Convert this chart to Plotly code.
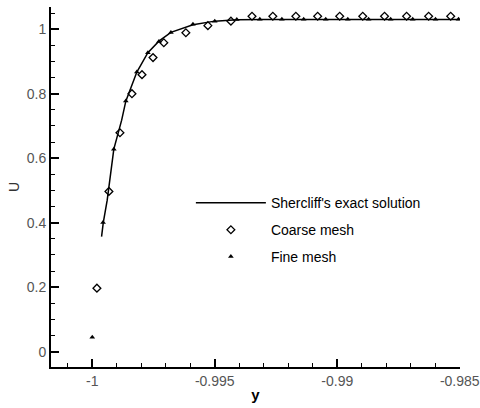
import plotly.graph_objects as go

# Shercliff's exact solution
exact_y = [-0.99962, -0.99955, -0.99939, -0.99912, -0.99880, -0.99863, -0.99818,
           -0.99773, -0.99728, -0.99679, -0.99589, -0.99500, -0.99410, -0.99300, -0.98500]
exact_u = [0.357, 0.400, 0.470, 0.628, 0.718, 0.777, 0.867,
           0.927, 0.963, 0.990, 1.014, 1.025, 1.029, 1.030, 1.030]

# Coarse mesh
coarse_y = [-0.99981, -0.99932, -0.99887, -0.99838, -0.99797, -0.99752, -0.99708,
            -0.99618, -0.99528, -0.99434, -0.99348, -0.99263, -0.99169, -0.99080,
            -0.98990, -0.98896, -0.98807, -0.98717, -0.98627, -0.98537]
coarse_u = [0.197, 0.497, 0.679, 0.800, 0.859, 0.912, 0.958,
            0.989, 1.011, 1.025, 1.040, 1.040, 1.040, 1.040,
            1.040, 1.040, 1.040, 1.040, 1.040, 1.040]

# Fine mesh
fine_y = [-1.00000, -0.99956, -0.99912, -0.99863, -0.99818, -0.99773, -0.99728,
          -0.99679, -0.99589, -0.99500, -0.99410, -0.99316, -0.99226, -0.99137,
          -0.99047, -0.98957, -0.98872, -0.98782, -0.98692, -0.98599, -0.98505]
fine_u = [0.045, 0.401, 0.628, 0.777, 0.867, 0.927, 0.962,
          0.990, 1.015, 1.025, 1.030, 1.031, 1.031, 1.031,
          1.031, 1.031, 1.031, 1.031, 1.031, 1.031, 1.031]

x_tickvals = [-1, -0.995, -0.99, -0.985]
x_ticktext = ["-1", "-0.995", "-0.99", "-0.985"]
u_tickvals = [0, 0.2, 0.4, 0.6, 0.8, 1]
u_ticktext = ["0", "0.2", "0.4", "0.6", "0.8", "1"]
series_names = ["Shercliff's exact solution", "Coarse mesh", "Fine mesh"]

FONT = "Liberation Sans, Arial, sans-serif"

fig = go.Figure()
fig.add_trace(go.Scatter(x=exact_y, y=exact_u, mode="lines", name=series_names[0],
                         line=dict(color="black", width=1.5), legend="legend",
                         showlegend=True))
fig.add_trace(go.Scatter(x=coarse_y, y=coarse_u, mode="markers", name=series_names[1],
                         marker=dict(symbol="diamond-open", size=6, color="black",
                                     line=dict(width=1.3, color="black")),
                         legend="legend2", showlegend=True))
fig.add_trace(go.Scatter(x=fine_y, y=fine_u, mode="markers", name=series_names[2],
                         marker=dict(symbol="triangle-up", size=5, color="black"),
                         legend="legend3", showlegend=True))

leg_common = dict(xanchor="left", yanchor="middle", bgcolor="rgba(0,0,0,0)",
                  font=dict(family=FONT, size=14, color="black"), itemwidth=70,
                  borderwidth=0, visible=True)

fig.update_layout(
    width=480, height=408,
    margin=dict(l=51, r=20, t=7, b=41, autoexpand=False),
    showlegend=True,
    paper_bgcolor="white", plot_bgcolor="white",
    font=dict(family=FONT, size=14, color="#555"),
    legend=dict(x=0.342, y=0.455, **leg_common),
    legend2=dict(x=0.342, y=0.38, **leg_common),
    legend3=dict(x=0.342, y=0.306, **leg_common),
    xaxis=dict(range=[-1.001684, -0.98499], showgrid=False, zeroline=False,
               automargin=False,
               showline=True, linecolor="black", linewidth=2,
               ticks="inside", ticklen=8, tickwidth=1.5, tickcolor="black",
               tickmode="array", tickvals=x_tickvals, ticktext=x_ticktext,
               tickfont=dict(family=FONT, size=14, color="#555"),
               minor=dict(tickmode="linear", tick0=-1, dtick=0.001, ticks="inside",
                          ticklen=4, tickwidth=1, tickcolor="black"),
               title=dict(text="<b>y</b>", font=dict(family=FONT, size=15, color="black"),
                          standoff=2)),
    yaxis=dict(range=[-0.0474, 1.0688], showgrid=False, zeroline=False,
               automargin=False,
               showline=True, linecolor="black", linewidth=2,
               ticks="inside", ticklen=8, tickwidth=1.5, tickcolor="black",
               tickmode="array", tickvals=u_tickvals, ticktext=u_ticktext,
               tickfont=dict(family=FONT, size=14, color="#555"),
               minor=dict(tickmode="linear", tick0=0, dtick=0.05, ticks="inside",
                          ticklen=4, tickwidth=1, tickcolor="black"),
               title=dict(text="U", font=dict(family=FONT, size=14, color="#333"),
                          standoff=4)),
)

fig.write_html("out.html", config={"displayModeBar": False},
               post_script="document.body.style.margin='0';")
